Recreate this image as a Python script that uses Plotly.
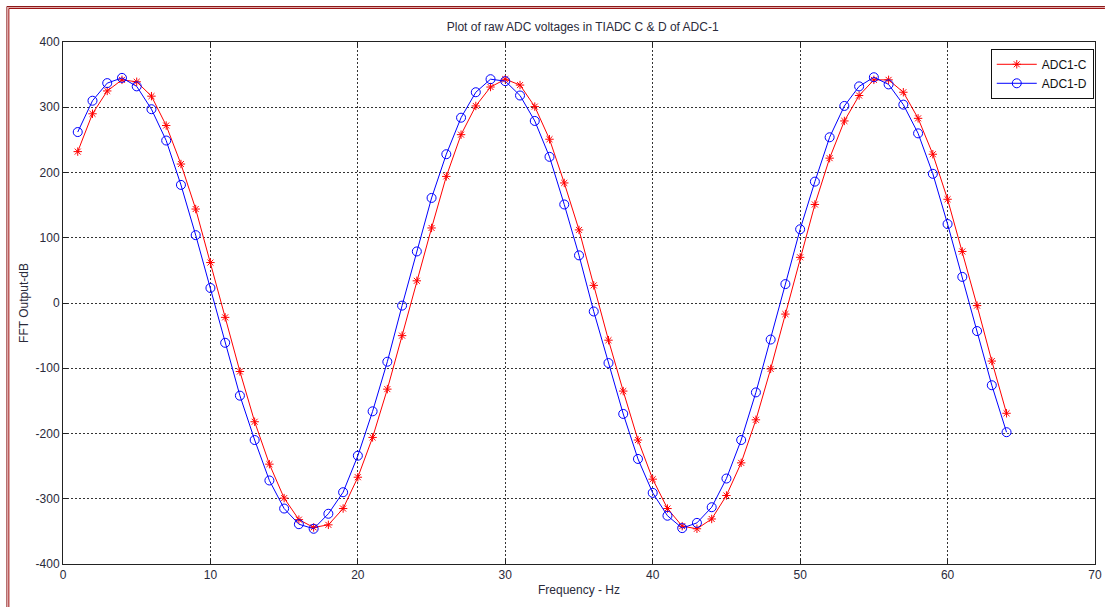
import plotly.graph_objects as go

# Data
freq = list(range(1, 65))
adc1_c = [232, 290, 325, 342, 339, 317, 272, 213, 144, 62,
          -22, -105, -182, -247, -299, -332, -344, -340, -315, -267,
          -206, -132, -50, 34, 115, 194, 258, 302, 331, 343,
          334, 301, 251, 184, 112, 27, -57, -135, -210, -270,
          -315, -342, -346, -331, -295, -245, -179, -101, -17, 70,
          151, 222, 279, 318, 342, 342, 323, 283, 228, 159,
          79, -4, -89, -169]
adc1_d = [262, 310, 337, 345, 332, 297, 249, 181, 104, 23,
          -61, -142, -210, -272, -315, -339, -346, -323, -290, -234,
          -166, -90, -4, 79, 161, 228, 284, 323, 343, 340,
          318, 279, 224, 151, 73, -13, -92, -170, -239, -291,
          -326, -345, -337, -313, -269, -210, -137, -56, 29, 113,
          186, 254, 302, 332, 346, 335, 304, 260, 198, 121,
          40, -43, -126, -198]
series_names = ["ADC1-C", "ADC1-D"]
x_ticks = [0, 10, 20, 30, 40, 50, 60, 70]
y_ticks = [-400, -300, -200, -100, 0, 100, 200, 300, 400]
y_tick_labels = ["-400", "-300", "-200", "-100", "0", "100", "200", "300", "400"]

FONT = "Liberation Sans, Arial, sans-serif"
TXT = "#2a2a3a"

fig = go.Figure()
fig.add_trace(go.Scatter(
    x=freq, y=adc1_c, name=series_names[0], mode="lines+markers",
    line=dict(color="#ff0000", width=1),
    marker=dict(symbol="asterisk-open", size=7, color="#ff0000",
                line=dict(color="#ff0000", width=1)),
))
fig.add_trace(go.Scatter(
    x=freq, y=adc1_d, name=series_names[1], mode="lines+markers",
    line=dict(color="#0000ff", width=1),
    marker=dict(symbol="circle-open", size=9, color="#0000ff",
                line=dict(color="#0000ff", width=1)),
))

axis_common = dict(
    showline=True, linecolor="#222222", linewidth=1, mirror="ticks",
    ticks="inside", ticklen=5, tickcolor="#222222",
    showgrid=True, gridcolor="#333333", gridwidth=1, griddash="2px,2px",
    zeroline=False,
    tickfont=dict(family=FONT, size=12, color=TXT),
)

fig.update_xaxes(range=[0, 70], tickvals=x_ticks, **axis_common,
                 title=dict(text="Frequency - Hz", standoff=4,
                            font=dict(family=FONT, size=12, color=TXT)))
fig.update_yaxes(range=[-400, 400], tickvals=y_ticks, ticktext=y_tick_labels,
                 **axis_common,
                 title=dict(text="FFT Output-dB", standoff=4,
                            font=dict(family=FONT, size=12, color=TXT)))

fig.update_layout(
    width=1112, height=607,
    margin=dict(l=63, r=10, t=42, b=43),
    paper_bgcolor="white", plot_bgcolor="white",
    font=dict(family=FONT, size=12, color=TXT),
    title=dict(text="Plot of raw ADC voltages in TIADC C & D of ADC-1",
               x=0.524, xanchor="center", y=1 - 26.7 / 607, yanchor="middle",
               yref="container", font=dict(family=FONT, size=12, color=TXT)),
    legend=dict(x=0.899, y=0.987, xanchor="left", yanchor="top",
                bgcolor="white", bordercolor="#111111", borderwidth=1,
                font=dict(family=FONT, size=12, color="#111111"),
                itemwidth=40, tracegroupgap=0),
    showlegend=True,
)

# Dark-red window frame at top and left edges
frame = [("#8b1a1a", 6.5), ("#e0a8a8", 7.5), ("#9e1414", 8.5)]
W, H = 1112.0, 607.0
for col, p in frame:
    fig.add_shape(type="line", xref="paper", yref="paper",
                  x0=(p - 63) / 1039, x1=(W - 63) / 1039,
                  y0=1 - (p - 42) / 522, y1=1 - (p - 42) / 522,
                  line=dict(color=col, width=1), layer="above")
    fig.add_shape(type="line", xref="paper", yref="paper",
                  x0=(p - 63) / 1039, x1=(p - 63) / 1039,
                  y0=1 - (p - 42) / 522, y1=1 - (H - 42) / 522,
                  line=dict(color=col, width=1), layer="above")

fig.write_html("out.html")
